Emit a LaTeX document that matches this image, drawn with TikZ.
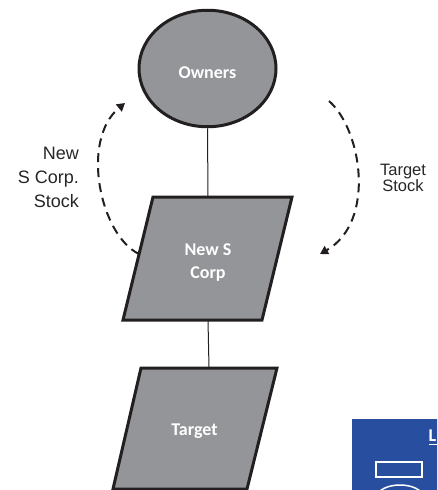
\documentclass[tikz,border=0pt]{standalone}
\usepackage{fontspec}
\setmainfont{Liberation Sans}
\newfontfamily\calib{Carlito}
\usetikzlibrary{shapes.geometric,arrows.meta}
\definecolor{boxgrey}{HTML}{939598}
\definecolor{edgedark}{HTML}{231F20}
\definecolor{legblue}{RGB}{40,78,160}
\tikzset{
  shapeedge/.style={draw=edgedark, line width=3pt, fill=boxgrey, line join=miter},
  boxtext/.style={text=white, font=\calib\bfseries\fontsize{18}{23}\selectfont, align=center, inner sep=0pt},
  linktxt/.style={inner sep=0pt, text=black!85},
  link/.style={draw=edgedark, line width=1pt},
  flow/.style={draw=edgedark, line width=2pt, dash pattern=on 9pt off 6pt, -{Triangle[width=9pt,length=8pt]}}
}
\begin{document}
\begin{tikzpicture}[x=1pt,y=-1pt]
\useasboundingbox (0,0) rectangle (437,490);
% Owners
\node[shapeedge, ellipse, minimum width=137pt, minimum height=116.5pt, inner sep=0pt] (owners) at (207.5,68.5) {};
\node[boxtext, anchor=north] (ownerstxt) at (207.5,66) {Owners};
% New S Corp parallelogram
\coordinate (nsA) at (123,320);
\coordinate (nsB) at (262,320);
\coordinate (nsC) at (292,197);
\coordinate (nsD) at (153,197);
\path[shapeedge] (nsA) -- (nsB) -- (nsC) -- (nsD) -- cycle;
\node[boxtext, anchor=north] (newscorp) at (208,243) {New S\\Corp};
\coordinate (nsTop) at (208,197);
\coordinate (nsBot) at (208,320);
% Target parallelogram
\coordinate (tgA) at (113,489);
\coordinate (tgB) at (247,489);
\coordinate (tgC) at (277,368);
\coordinate (tgD) at (141,368);
\path[shapeedge] (tgA) -- (tgB) -- (tgC) -- (tgD) -- cycle;
\node[boxtext, anchor=north] (target) at (194.5,424) {Target};
\coordinate (tgTop) at (209,368);
% connectors
\draw[link] (owners.south) -- (nsTop);
\draw[link] (nsBot) -- (tgTop);
% dashed flows
\coordinate (lfStart) at (139,254);
\coordinate (lfEnd) at (125,103);
\draw[flow] (lfStart) .. controls (100,235) and (80,140) .. (lfEnd);
\coordinate (rtStart) at (329,101);
\coordinate (rtEnd) at (320,254);
\draw[flow] (rtStart) .. controls (362,130) and (376,222) .. (rtEnd);
% labels
\node[linktxt, anchor=north east, align=right, font=\fontsize{18}{24}\selectfont] (lbl1) at (79,147) {New\\S Corp.\\Stock};
\node[linktxt, anchor=north, align=center, font=\fontsize{16.5}{15}\selectfont] (lbl2) at (403,164) {Target\\Stock};
% legend (cut off)
\begin{scope}
\clip (0,0) rectangle (437,490);
\fill[legblue] (352,419) rectangle (460,510);
\draw[white, line width=1.5pt] (376,462) rectangle (422,477);
\draw[white, line width=1.5pt] (400,497) ellipse [x radius=23, y radius=12];
\node[text=white, font=\calib\bfseries\fontsize{18}{18}\selectfont, inner sep=0pt, anchor=base west] (legend) at (428.5,441) {L};
\draw[white, line width=1.2pt] (429,444.5) -- (440,444.5);
\end{scope}
\end{tikzpicture}
\end{document}
